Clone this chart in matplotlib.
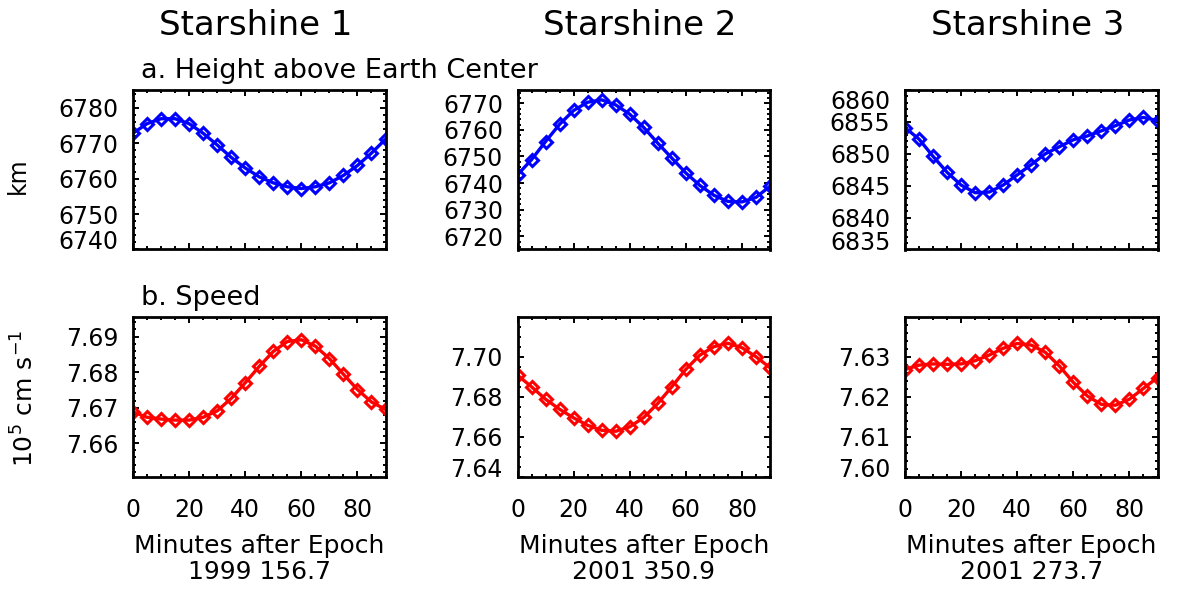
import numpy as np
import matplotlib.pyplot as plt
from matplotlib.ticker import AutoMinorLocator, FormatStrFormatter

plt.rcParams['font.family'] = ['DejaVu Sans']
plt.rcParams['mathtext.fontset'] = 'dejavusans'

# sample times (minutes after epoch)
minutes = [0, 5, 10, 15, 20, 25, 30, 35, 40, 45, 50, 55, 60, 65, 70, 75, 80, 85, 90]

titles = ['Starshine 1', 'Starshine 2', 'Starshine 3']
epochs = ['1999 156.7', '2001 350.9', '2001 273.7']

# height above Earth center (km)
height1 = [6772.8, 6775.5, 6776.9, 6776.9, 6775.5, 6772.8, 6769.5, 6766.0, 6763.0, 6760.5,
           6758.8, 6757.7, 6757.2, 6757.7, 6758.8, 6760.9, 6763.7, 6767.2, 6771.1]
height2 = [6743.1, 6748.8, 6755.6, 6762.1, 6767.3, 6770.4, 6771.3, 6769.4, 6765.9, 6760.9,
           6755.0, 6749.4, 6743.8, 6739.1, 6735.4, 6733.1, 6732.9, 6734.6, 6738.8]
height3 = [6854.1, 6852.3, 6849.6, 6847.1, 6845.1, 6843.9, 6844.0, 6845.1, 6846.7, 6848.3,
           6850.0, 6851.1, 6852.2, 6852.8, 6853.6, 6854.4, 6855.3, 6855.7, 6855.2]

# speed (10^5 cm/s)
speed1 = [7.6688, 7.6673, 7.6668, 7.6665, 7.6665, 7.6673, 7.6691, 7.6726, 7.6770, 7.6816,
          7.6858, 7.6886, 7.6891, 7.6873, 7.6838, 7.6794, 7.6751, 7.6716, 7.6695]
speed2 = [7.6908, 7.6850, 7.6788, 7.6738, 7.6695, 7.6658, 7.6633, 7.6628, 7.6650, 7.6697,
          7.6767, 7.6850, 7.6937, 7.7008, 7.7050, 7.7067, 7.7045, 7.7000, 7.6945]
speed3 = [7.6268, 7.6279, 7.6282, 7.6281, 7.6282, 7.6290, 7.6304, 7.6321, 7.6333, 7.6329,
          7.6311, 7.6277, 7.6236, 7.6202, 7.6181, 7.6179, 7.6194, 7.6221, 7.6248]

heights = [height1, height2, height3]
speeds = [speed1, speed2, speed3]

height_lims = [(6740, 6785), (6715, 6775), (6835, 6860)]
height_step = [10, 10, 5]
height_minor = [5, 5, 5]
speed_lims = [(7.6505, 7.6955), (7.64, 7.7198), (7.60, 7.6399)]
speed_step = [0.01, 0.02, 0.01]
speed_minor = [5, 4, 5]

W, H = 1179, 590
fig = plt.figure(figsize=(W / 100, H / 100), dpi=100)

col_left = [133, 517.5, 905]
col_w = 252.5
rows = [(90, 249.5), (317, 477)]


def add_ax(left, top, bottom):
    return fig.add_axes([left / W, 1 - bottom / H, col_w / W, (bottom - top) / H])


def style(ax, lims, step, nminor, fmt):
    ax.set_xlim(0, 90)
    ax.set_xticks([0, 20, 40, 60, 80])
    ax.xaxis.set_minor_locator(AutoMinorLocator(4))
    lo, hi = lims
    first = np.ceil(round(lo / step, 6)) * step
    ticks = np.arange(first, hi + step * 0.001, step)
    ax.set_ylim(lo, hi)
    ax.set_yticks(ticks)
    ax.yaxis.set_major_formatter(FormatStrFormatter(fmt))
    ax.yaxis.set_minor_locator(AutoMinorLocator(nminor))
    ax.tick_params(which='both', direction='in', top=True, right=True, width=1.4,
                   labelsize=17)
    ax.tick_params(which='major', length=4.5)
    ax.tick_params(which='minor', length=2.2)
    ax.tick_params(axis='y', pad=10.5)
    ax.tick_params(axis='x', pad=15)
    for s in ax.spines.values():
        s.set_linewidth(2)
    # labels at the axis ends sit inside the box
    for t, v in zip(ax.yaxis.get_major_ticks(), ticks):
        if abs(v - lo) < step * 1e-3:
            t.label1.set_verticalalignment('baseline')
        if abs(v - hi) < step * 1e-3:
            t.label1.set_verticalalignment('top')


for i in range(3):
    ax = add_ax(col_left[i], *rows[0])
    ax.plot(minutes, heights[i], color='#0000ff', lw=2.4, marker='D', ms=6,
            mfc='none', mew=2.2)
    style(ax, height_lims[i], height_step[i], height_minor[i], '%d')
    ax.set_xticklabels([])

    ax = add_ax(col_left[i], *rows[1])
    ax.plot(minutes, speeds[i], color='#ff0000', lw=2.4, marker='D', ms=6,
            mfc='none', mew=2.2)
    style(ax, speed_lims[i], speed_step[i], speed_minor[i], '%.2f')

    cx = col_left[i] + col_w / 2
    fig.text((cx - 4) / W, 1 - 35 / H, titles[i], fontsize=24.5, ha='center',
             va='baseline')
    fig.text(cx / W, 1 - 553 / H, 'Minutes after Epoch', fontsize=18, ha='center',
             va='baseline')
    fig.text(cx / W, 1 - 579 / H, epochs[i], fontsize=18, ha='center', va='baseline')

fig.text(141 / W, 1 - 78 / H, 'a. Height above Earth Center', fontsize=19.5,
         va='baseline')
fig.text(141 / W, 1 - 305 / H, 'b. Speed', fontsize=19.5, va='baseline')
fig.text(18 / W, 1 - 176 / H, 'km', fontsize=17, rotation=90, ha='center', va='center')
fig.text(25 / W, 1 - 398 / H, r'10$^5$ cm s$^{-1}$', fontsize=18, rotation=90,
         ha='center', va='center')

fig.savefig('out.png', dpi=100)
